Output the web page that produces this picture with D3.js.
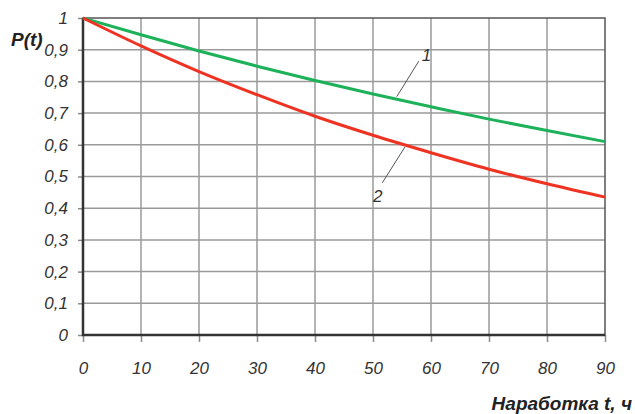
<!DOCTYPE html>
<html lang="ru">
<head>
  <meta charset="UTF-8">
  <title>P(t)</title>
  <script src="https://cdn.jsdelivr.net/npm/d3@7"></script>
  <style>
    body { margin: 0; background: #fff; }
    text { font-family: Arial, "Liberation Sans", sans-serif; font-style: italic; }
  </style>
</head>
<body>
<svg id="chart" width="635" height="414"></svg>
<script>
  // values, every 10 h
  var hours = [0, 10, 20, 30, 40, 50, 60, 70, 80, 90];
  var curve1 = [1, 0.947, 0.896, 0.848, 0.803, 0.76, 0.72, 0.681, 0.645, 0.61];
  var curve2 = [1, 0.912, 0.831, 0.758, 0.69, 0.63, 0.575, 0.523, 0.477, 0.435];
  var yTicks = [0, 0.1, 0.2, 0.3, 0.4, 0.5, 0.6, 0.7, 0.8, 0.9, 1];

  var svg = d3.select("#chart");
  var plotL = 83, plotR = 605, plotT = 18, plotB = 335;

  var x = d3.scaleLinear().domain([0, 90]).range([plotL, plotR]);
  var y = d3.scaleLinear().domain([0, 1]).range([plotB, plotT]);
  var fmt = function(d) { return d === 0 || d === 1 ? String(d) : d3.format(".1f")(d).replace(".", ","); };

  // grid
  svg.append("g").selectAll("line").data(hours.slice(1, -1)).enter().append("line")
    .attr("x1", x).attr("x2", x).attr("y1", plotT).attr("y2", plotB)
    .attr("stroke", "#9a9a9a").attr("stroke-width", 1.5);
  svg.append("g").selectAll("line").data(yTicks.slice(1, -1)).enter().append("line")
    .attr("x1", plotL).attr("x2", plotR).attr("y1", y).attr("y2", y)
    .attr("stroke", "#9a9a9a").attr("stroke-width", 1.5);

  // axes
  var xAxis = svg.append("g").attr("transform", "translate(0," + plotB + ")")
    .call(d3.axisBottom(x).tickValues(hours).tickSize(7).tickPadding(20).tickFormat(d3.format("d")));
  var yAxis = svg.append("g").attr("transform", "translate(" + plotL + ",0)")
    .call(d3.axisLeft(y).tickValues(yTicks).tickSize(5).tickPadding(10).tickFormat(fmt));
  [xAxis, yAxis].forEach(function(g) {
    g.select(".domain").remove();
    g.selectAll(".tick line").attr("stroke", "#8a8a8a").attr("stroke-width", 1.5);
    g.selectAll(".tick text").attr("fill", "#333").style("font-size", "17px")
      .style("font-family", "Arial, 'Liberation Sans', sans-serif").style("font-style", "italic");
  });

  // frame
  svg.append("rect").attr("x", plotL).attr("y", plotT).attr("width", plotR - plotL).attr("height", plotB - plotT)
    .attr("fill", "none").attr("stroke", "#555").attr("stroke-width", 1.5);
  svg.append("path").attr("d", "M" + plotL + "," + plotT + "V" + plotB + "H" + plotR)
    .attr("fill", "none").attr("stroke", "#333").attr("stroke-width", 2.5);

  // curves
  var line = d3.line().x(function(d, i) { return x(hours[i]); }).y(function(d) { return y(d); })
    .curve(d3.curveMonotoneX);
  svg.append("path").datum(curve1).attr("d", line).attr("fill", "none")
    .attr("stroke", "#1db15a").attr("stroke-width", 3);
  svg.append("path").datum(curve2).attr("d", line).attr("fill", "none")
    .attr("stroke", "#ee3322").attr("stroke-width", 3);

  // callouts
  svg.append("line").attr("x1", x(54.1)).attr("y1", y(0.752)).attr("x2", x(57.9)).attr("y2", y(0.864))
    .attr("stroke", "#555").attr("stroke-width", 1);
  svg.append("text").attr("x", x(59.2)).attr("y", y(0.865)).attr("text-anchor", "middle")
    .attr("fill", "#333").style("font-size", "17px").text("1");
  svg.append("line").attr("x1", x(55.5)).attr("y1", y(0.593)).attr("x2", x(51.6)).attr("y2", y(0.48))
    .attr("stroke", "#555").attr("stroke-width", 1);
  svg.append("text").attr("x", x(50.8)).attr("y", y(0.42)).attr("text-anchor", "middle")
    .attr("fill", "#333").style("font-size", "17px").text("2");

  // titles
  svg.append("text").attr("x", 11).attr("y", 46).attr("fill", "#222")
    .style("font-size", "19px").style("font-weight", "bold").text("P(t)");
  svg.append("text").attr("x", 632).attr("y", 410).attr("text-anchor", "end").attr("fill", "#222")
    .style("font-size", "19px").style("font-weight", "bold").text("Наработка t, ч");
</script>
</body>
</html>
